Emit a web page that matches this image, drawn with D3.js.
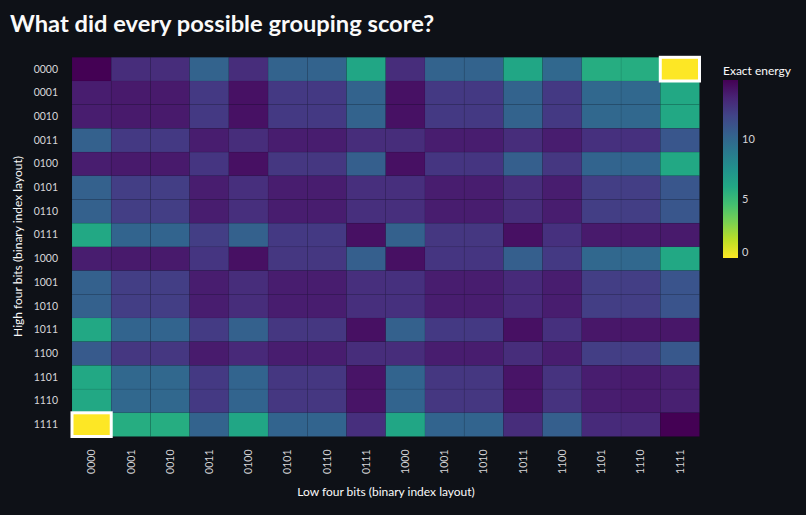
<!DOCTYPE html>
<html lang="en">
<head>
<meta charset="utf-8">
<title>Grouping scores</title>
<script src="https://d3js.org/d3.v7.js"></script>
<style>
  body { margin: 0; background: #0e1117; }
  text { font-family: "Source Sans Pro", Lato, "Noto Sans", sans-serif; }
</style>
</head>
<body>
<script>
// high nibble = rows, low nibble = columns
var highBits = ["0000","0001","0010","0011","0100","0101","0110","0111",
                "1000","1001","1010","1011","1100","1101","1110","1111"];
var lowBits = highBits.slice();

// exact energy (row = high bits, column = low bits)
var energy = [
  [15, 13.1, 13.1, 10.3, 13.1, 10.3, 10.3, 6.1, 13.1, 10.3, 10.3, 6.1, 10, 5.7, 5.7, 0],
  [13.8, 14, 14, 12.5, 14.3, 12.5, 12.5, 10.3, 14.3, 12.5, 12.5, 10.3, 12.5, 10, 10, 6],
  [13.8, 14, 14, 12.5, 14.3, 12.5, 12.5, 10.3, 14.3, 12.5, 12.5, 10.3, 12.5, 10, 10, 6],
  [10.4, 12.5, 12.5, 13.8, 13.1, 13.8, 13.8, 13.1, 13.1, 13.8, 13.8, 13.1, 13.8, 12.9, 12.9, 11],
  [13.8, 14, 14, 12.7, 14.4, 12.6, 12.6, 10.5, 14.4, 12.7, 12.7, 10.5, 12.6, 10.2, 10.2, 6],
  [10.4, 12.3, 12.3, 13.8, 13, 13.8, 13.8, 13, 13, 13.8, 13.8, 13.1, 13.8, 12.3, 12.3, 11],
  [10.4, 12.3, 12.3, 13.8, 13, 13.8, 13.8, 13, 13, 13.8, 13.8, 13.1, 13.8, 12.3, 12.3, 11],
  [6, 10.2, 10.2, 12.3, 10.4, 12.5, 12.5, 14.4, 10.4, 12.6, 12.6, 14.4, 12.9, 14, 14, 14],
  [13.8, 14, 14, 12.7, 14.4, 12.6, 12.6, 10.5, 14.4, 12.7, 12.7, 10.5, 12.5, 10, 10, 6],
  [10.4, 12.3, 12.3, 13.8, 13.1, 13.8, 13.8, 13, 12.9, 13.8, 13.8, 13.2, 13.8, 12.3, 12.3, 11.1],
  [10.4, 12.3, 12.3, 13.8, 13.1, 13.8, 13.8, 13, 12.9, 13.8, 13.8, 13.2, 13.8, 12.3, 12.3, 11.1],
  [6, 10.2, 10.2, 12.4, 10.4, 12.6, 12.6, 14.4, 10.4, 12.5, 12.5, 14.4, 12.9, 14.1, 14.1, 14.1],
  [10.8, 12.6, 12.6, 13.9, 13.3, 13.8, 13.8, 13.1, 13.1, 13.8, 13.8, 13.1, 13.8, 12.3, 12.3, 10.9],
  [6, 10, 10, 12.5, 10.2, 12.6, 12.6, 14.2, 10.2, 12.6, 12.6, 14.2, 12.8, 13.8, 13.9, 13.7],
  [6, 10, 10, 12.5, 10.2, 12.6, 12.6, 14.2, 10.2, 12.6, 12.6, 14.2, 12.8, 13.8, 13.9, 13.7],
  [0, 5.7, 5.7, 10.3, 6.1, 10.2, 10.2, 13, 6.1, 10.2, 10.2, 13.1, 10.5, 13.2, 13.3, 15]
];
var legendTicks = [0, 5, 10];

var w = 806;
var h = 515;
var labelColor = "#d6d6d9";

var svg = d3.select("body")
  .append("svg")
  .attr("width", w)
  .attr("height", h);

svg.append("text")
  .attr("x", 10)
  .attr("y", 32)
  .attr("fill", "#fafafa")
  .attr("font-size", 23.7)
  .attr("font-weight", "bold")
  .text("What did every possible grouping score?");

var xScale = d3.scaleBand()
  .domain(lowBits)
  .range([72, 699.5]);

var yScale = d3.scaleBand()
  .domain(highBits)
  .range([57.3, 436.5]);

var maxE = d3.max(energy, r => d3.max(r));
var minE = d3.min(energy, r => d3.min(r));
var color = d3.scaleSequential(t => d3.interpolateViridis(1 - t))
  .domain([minE, maxE]);

var cells = [];
energy.forEach(function (row, i) {
  row.forEach(function (v, j) {
    cells.push({ hi: highBits[i], lo: lowBits[j], e: v });
  });
});

svg.append("g")
  .selectAll("rect")
  .data(cells)
  .enter()
  .append("rect")
  .attr("x", d => xScale(d.lo))
  .attr("y", d => yScale(d.hi))
  .attr("width", xScale.bandwidth())
  .attr("height", yScale.bandwidth())
  .attr("fill", d => color(d.e))
  .attr("stroke", "#0e1117")
  .attr("stroke-opacity", 0.07)
  .attr("stroke-width", 0.6);

// outline the best groupings
svg.append("g")
  .selectAll("rect")
  .data(cells.filter(d => d.e === minE))
  .enter()
  .append("rect")
  .attr("x", d => xScale(d.lo))
  .attr("y", d => yScale(d.hi))
  .attr("width", xScale.bandwidth())
  .attr("height", yScale.bandwidth())
  .attr("fill", "none")
  .attr("stroke", "#ffffff")
  .attr("stroke-width", 3);

// Y axis
var yAxis = svg.append("g")
  .attr("transform", "translate(72,0)")
  .call(d3.axisLeft(yScale).tickSize(0).tickPadding(14));
yAxis.select(".domain").remove();
yAxis.selectAll("text")
  .attr("fill", labelColor)
  .attr("font-size", 10.5);

// X axis
var xAxis = svg.append("g")
  .attr("transform", "translate(0,436.5)")
  .call(d3.axisBottom(xScale).tickSize(0));
xAxis.select(".domain").remove();
xAxis.selectAll("text")
  .attr("fill", labelColor)
  .attr("font-size", 10.5)
  .attr("transform", "rotate(-90)")
  .attr("x", -13)
  .attr("y", 0)
  .attr("dy", "0.35em")
  .style("text-anchor", "end");

svg.append("text")
  .attr("x", 386)
  .attr("y", 496)
  .attr("text-anchor", "middle")
  .attr("fill", "#fafafa")
  .attr("font-size", 12)
  .text("Low four bits (binary index layout)");

svg.append("text")
  .attr("transform", "translate(22,246.5) rotate(-90)")
  .attr("text-anchor", "middle")
  .attr("fill", "#fafafa")
  .attr("font-size", 12)
  .text("High four bits (binary index layout)");

// colour legend
var lg = svg.append("defs")
  .append("linearGradient")
  .attr("id", "grad")
  .attr("x1", 0).attr("y1", 1)
  .attr("x2", 0).attr("y2", 0);
d3.range(0, 1.0001, 0.1).forEach(function (t) {
  lg.append("stop")
    .attr("offset", t)
    .attr("stop-color", color(minE + t * (maxE - minE)));
});

var legendScale = d3.scaleLinear()
  .domain([minE, maxE])
  .range([258, 80]);

svg.append("rect")
  .attr("x", 723)
  .attr("y", 80)
  .attr("width", 15)
  .attr("height", 178)
  .attr("fill", "url(#grad)");

var legendAxis = svg.append("g")
  .attr("transform", "translate(738,0)")
  .call(d3.axisRight(legendScale).tickValues(legendTicks).tickSize(0).tickPadding(4));
legendAxis.select(".domain").remove();
legendAxis.selectAll("text")
  .attr("fill", labelColor)
  .attr("font-size", 11)
  .attr("dy", d => d === minE ? "-0.25em" : "0.32em");

svg.append("text")
  .attr("x", 723)
  .attr("y", 75)
  .attr("fill", "#fafafa")
  .attr("font-size", 12)
  .text("Exact energy");
</script>
</body>
</html>
